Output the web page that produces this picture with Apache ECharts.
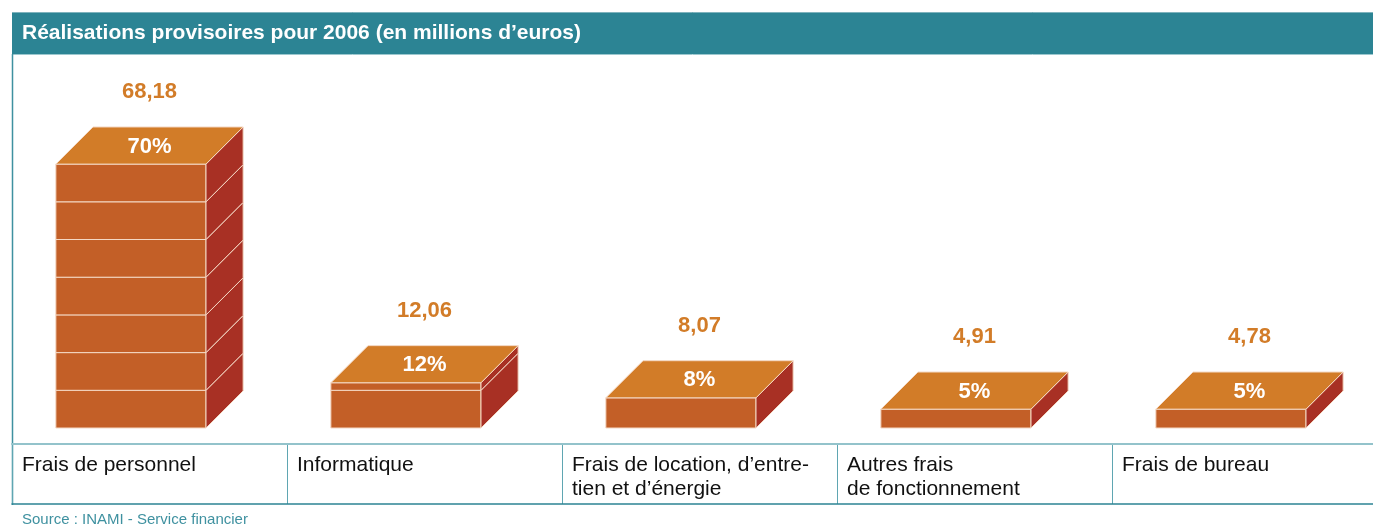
<!DOCTYPE html>
<html>
<head>
<meta charset="utf-8">
<script src="https://cdn.jsdelivr.net/npm/echarts@6/dist/echarts.min.js"></script>
<style>
  html, body { margin: 0; padding: 0; background: #fff; }
  #chart { width: 1373px; height: 529px; }
</style>
</head>
<body>
<div id="chart"></div>
<script>
const categories = [
  "Frais de personnel",
  "Informatique",
  "Frais de location, d\u2019entre-\ntien et d\u2019\u00e9nergie",
  "Autres frais\nde fonctionnement",
  "Frais de bureau",
];
const amounts = [68.18, 12.06, 8.07, 4.91, 4.78];
const shares = [70, 12, 8, 5, 5];

const TEAL = "#2c8494";
const TOP = "#d27c28";
const FRONT = "#c35f27";
const SIDE = "#a83024";
const EDGE = "#f4d8c4";

const chart = echarts.init(document.getElementById("chart"));

function fmt(v) {
  return v.toFixed(2).replace(".", ",");
}

function renderBox(params, api) {
  const i = api.value(0);
  const pct = api.value(1);
  const val = api.value(2);
  const base = api.coord([i, 0]);
  const cw = api.size([1, 0])[0];
  const fw = cw * 0.546;
  const dx = cw * 0.135;
  const dy = dx;
  const x0 = base[0] - (fw + dx) / 2;
  const x1 = x0 + fw;
  const children = [];
  // blocks of 10%
  const cuts = [0];
  for (let k = 10; k < pct; k += 10) cuts.push(k);
  cuts.push(pct);
  for (let s = 0; s < cuts.length - 1; s++) {
    const ya = api.coord([i, cuts[s]])[1];
    const yb = api.coord([i, cuts[s + 1]])[1];
    children.push({
      type: "rect",
      shape: { x: x0, y: yb, width: fw, height: ya - yb },
      style: { fill: FRONT, stroke: EDGE, lineWidth: 1 },
    });
    children.push({
      type: "polygon",
      shape: { points: [[x1, ya], [x1 + dx, ya - dy], [x1 + dx, yb - dy], [x1, yb]] },
      style: { fill: SIDE, stroke: EDGE, lineWidth: 1 },
    });
  }
  const yt = api.coord([i, pct])[1];
  children.push({
    type: "polygon",
    shape: { points: [[x0, yt], [x0 + dx, yt - dy], [x1 + dx, yt - dy], [x1, yt]] },
    style: { fill: TOP, stroke: EDGE, lineWidth: 1 },
  });
  const cx = (x0 + x1 + dx) / 2;
  children.push({
    type: "text",
    style: {
      x: cx, y: yt - dy / 2 + 1, text: pct + "%",
      fill: "#fff", font: "bold 22px 'Liberation Sans', Arial, sans-serif",
      align: "center", verticalAlign: "middle",
    },
  });
  children.push({
    type: "text",
    style: {
      x: cx, y: yt - dy - 35, text: fmt(val),
      fill: TOP, font: "bold 22px 'Liberation Sans', Arial, sans-serif",
      align: "center", verticalAlign: "middle",
    },
  });
  return { type: "group", children };
}

const option = {
  animation: false,
  grid: [
    { left: 12, width: 1375, top: 51, height: 377, outerBoundsMode: "none" },
    { left: 12, width: 1375, top: 444, height: 60, outerBoundsMode: "none" },
  ],
  xAxis: [
    { gridIndex: 0, type: "category", data: categories, show: false },
    {
      gridIndex: 1, type: "value", min: 0, max: 5, interval: 1, position: "top",
      axisLine: { show: true, onZero: false, lineStyle: { color: "#93c3cb", width: 2 } },
      axisTick: { show: false },
      splitLine: { show: true, lineStyle: { color: "#5fa6b2", width: 1 } },
      axisLabel: {
        inside: true, margin: 9, align: "left", verticalAlign: "top",
        padding: [0, 0, 0, 10], lineHeight: 24,
        color: "#111", fontSize: 21,
        fontFamily: "'Liberation Sans', Arial, sans-serif",
        formatter: (v) => categories[v] || "",
      },
    },
    {
      gridIndex: 1, type: "value", min: 0, max: 5, interval: 1, position: "bottom",
      axisLine: { show: true, onZero: false, lineStyle: { color: TEAL, width: 1.5 } },
      axisTick: { show: false }, axisLabel: { show: false }, splitLine: { show: false },
    },
  ],
  yAxis: [
    { gridIndex: 0, type: "value", min: 0, max: 100, show: false },
    { gridIndex: 1, type: "value", min: 0, max: 1, show: false },
  ],
  graphic: [
    { type: "rect", shape: { x: 12, y: 12, width: 1361, height: 42 }, style: { fill: TEAL } },
    { type: "line", shape: { x1: 12, y1: 12.5, x2: 1373, y2: 12.5 }, style: { stroke: "#7fb3bd", lineWidth: 1 } },
    { type: "line", shape: { x1: 12, y1: 54.5, x2: 1373, y2: 54.5 }, style: { stroke: "#9cc8cf", lineWidth: 1 } },
    {
      type: "text", left: 22, top: 23,
      style: { text: "R\u00e9alisations provisoires pour 2006 (en millions d\u2019euros)", fill: "#fff", font: "bold 21px 'Liberation Sans', Arial, sans-serif" },
    },
    { type: "line", shape: { x1: 12.5, y1: 54, x2: 12.5, y2: 505 }, style: { stroke: "#3f91a0", lineWidth: 1.5 } },
    {
      type: "text", left: 22, top: 512,
      style: { text: "Source : INAMI - Service financier", fill: "#3f91a0", font: "15px 'Liberation Sans', Arial, sans-serif" },
    },
  ],
  series: [
    {
      type: "custom",
      xAxisIndex: 0, yAxisIndex: 0,
      renderItem: renderBox,
      data: categories.map((c, i) => [i, shares[i], amounts[i]]),
    },
  ],
};

chart.setOption(option);
</script>
</body>
</html>
